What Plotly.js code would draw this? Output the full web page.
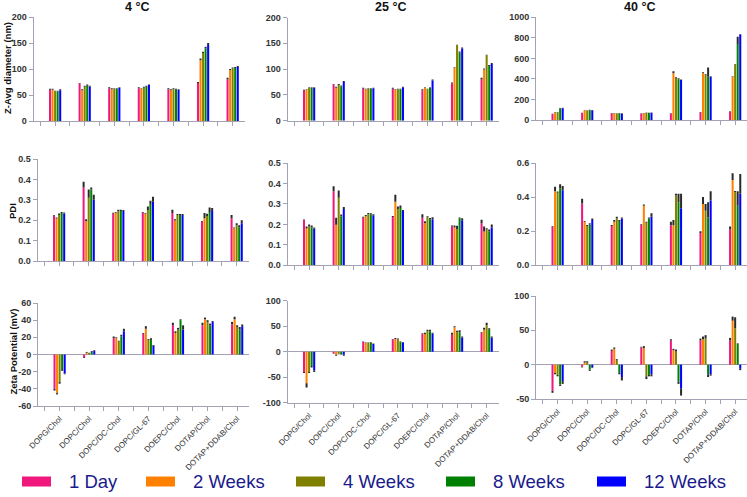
<!DOCTYPE html>
<html>
<head>
<meta charset="utf-8">
<script src="https://cdn.plot.ly/plotly-3.0.1.min.js"></script>
<style>
  html, body { margin: 0; padding: 0; background: #ffffff; }
  #chart { width: 747px; height: 497px; }
</style>
</head>
<body>
<div id="chart"></div>
<script>
// Liposome formulations (x categories) and storage time points (series)
const formulations = ['DOPG/Chol', 'DOPC/Chol', 'DOPC/DC-Chol', 'DOPC/GL-67', 'DOEPC/Chol', 'DOTAP/Chol', 'DOTAP+DDAB/Chol'];
const timePoints = ['1 Day', '2 Weeks', '4 Weeks', '8 Weeks', '12 Weeks'];
const temperatures = ['4 °C', '25 °C', '40 °C'];

// Z-average diameter (nm), rows = time points, columns = formulations
const zAvg4C = [
  [60, 72, 63, 63, 61, 73, 80],
  [60, 59, 61, 62, 59, 117, 98],
  [57, 66, 62, 64, 61, 131, 101],
  [57, 68, 62, 66, 60, 140, 102],
  [59, 66, 64, 69, 60, 146, 104]
];
const zAvg4CSd = [
  [2, 1, 2, 2, 2, 2, 3],
  [2, 2, 2, 1, 2, 3, 2],
  [1, 2, 1, 2, 2, 2, 2],
  [1, 2, 1, 2, 2, 3, 2],
  [2, 2, 1, 1, 1, 4, 2]
];
const zAvg25C = [
  [58, 70, 62, 62, 59, 72, 80],
  [60, 64, 61, 60, 64, 103, 99],
  [64, 69, 62, 61, 61, 146, 127],
  [64, 67, 62, 61, 64, 132, 106],
  [64, 75, 63, 65, 78, 140, 110]
];
const zAvg25CSd = [
  [2, 1, 2, 2, 2, 2, 3],
  [1, 2, 1, 1, 1, 1, 2],
  [1, 2, 1, 1, 1, 1, 1],
  [1, 1, 1, 1, 1, 2, 2],
  [1, 2, 1, 1, 2, 2, 2]
];
const zAvg40C = [
  [58, 68, 65, 63, 62, 72, 81],
  [70, 94, 65, 65, 455, 458, 420],
  [75, 92, 63, 70, 410, 438, 540],
  [113, 95, 65, 68, 398, 422, 740],
  [115, 95, 62, 70, 390, 422, 832]
];
const zAvg40CSd = [
  [4, 3, 3, 3, 4, 5, 5],
  [5, 4, 3, 3, 20, 8, 5],
  [4, 3, 3, 3, 6, 8, 5],
  [5, 4, 3, 3, 8, 90, 70],
  [4, 3, 3, 3, 5, 5, 5]
];

// Polydispersity index
const pdi4C = [
  [0.222, 0.360, 0.232, 0.236, 0.235, 0.192, 0.210],
  [0.208, 0.195, 0.236, 0.230, 0.198, 0.210, 0.160],
  [0.225, 0.310, 0.245, 0.250, 0.225, 0.220, 0.175],
  [0.235, 0.350, 0.245, 0.280, 0.225, 0.240, 0.165],
  [0.233, 0.300, 0.245, 0.290, 0.225, 0.245, 0.185]
];
const pdi4CSd = [
  [0.004, 0.028, 0.004, 0.004, 0.016, 0.004, 0.015],
  [0.005, 0.010, 0.004, 0.004, 0.007, 0.025, 0.004],
  [0.008, 0.040, 0.006, 0.017, 0.006, 0.012, 0.010],
  [0.005, 0.010, 0.006, 0.015, 0.005, 0.022, 0.010],
  [0.005, 0.025, 0.005, 0.025, 0.005, 0.015, 0.015]
];
const pdi25C = [
  [0.220, 0.362, 0.232, 0.236, 0.232, 0.190, 0.205],
  [0.180, 0.198, 0.240, 0.310, 0.205, 0.185, 0.165],
  [0.190, 0.330, 0.250, 0.275, 0.235, 0.175, 0.175],
  [0.185, 0.240, 0.250, 0.280, 0.225, 0.230, 0.165],
  [0.180, 0.275, 0.245, 0.265, 0.225, 0.220, 0.185]
];
const pdi25CSd = [
  [0.004, 0.024, 0.005, 0.005, 0.018, 0.005, 0.018],
  [0.010, 0.035, 0.006, 0.035, 0.010, 0.010, 0.025],
  [0.010, 0.035, 0.006, 0.012, 0.005, 0.018, 0.006],
  [0.010, 0.008, 0.005, 0.012, 0.006, 0.004, 0.010],
  [0.005, 0.010, 0.005, 0.005, 0.010, 0.010, 0.015]
];
const pdi40C = [
  [0.225, 0.362, 0.230, 0.236, 0.235, 0.190, 0.210],
  [0.435, 0.255, 0.255, 0.350, 0.235, 0.360, 0.500],
  [0.425, 0.230, 0.275, 0.250, 0.410, 0.320, 0.430],
  [0.450, 0.240, 0.260, 0.275, 0.370, 0.280, 0.350],
  [0.440, 0.265, 0.275, 0.285, 0.335, 0.380, 0.420]
];
const pdi40CSd = [
  [0.004, 0.028, 0.006, 0.005, 0.020, 0.010, 0.018],
  [0.025, 0.005, 0.010, 0.006, 0.030, 0.040, 0.040],
  [0.008, 0.006, 0.010, 0.005, 0.010, 0.040, 0.006],
  [0.025, 0.006, 0.005, 0.006, 0.050, 0.090, 0.085],
  [0.025, 0.010, 0.005, 0.020, 0.085, 0.055, 0.115]
];

// Zeta potential (mV)
const zeta4C = [
  [-40, -3, 19, 24, 34, 34, 35],
  [-45, 2, 19, 30, 25, 41, 41],
  [-32, 1, 15, 17, 29, 38, 32],
  [-17, 3, 21, 17, 40, 34, 29],
  [-22, 4, 27, 10, 29, 38, 33]
];
const zeta4CSd = [
  [2, 1, 2, 1, 3, 3, 3],
  [1.5, 1, 1, 3, 2, 2, 3],
  [2, 1, 1, 1, 2, 2, 2],
  [2, 1, 2, 2, 1, 2, 3],
  [1, 1, 3, 1, 5, 1, 2]
];
const zeta25C = [
  [-40, -3, 19, 24, 35, 33, 36],
  [-62, -6, 17, 25, 34, 48, 43],
  [-40, -4, 17, 24, 40, 38, 52],
  [-28, -5, 18, 19, 40, 38, 43],
  [-37, -6, 15, 18, 35, 28, 28]
];
const zeta25CSd = [
  [2, 1, 1, 1, 1, 4, 2],
  [8, 2, 1, 2, 3, 2, 4],
  [2, 1, 1, 2, 3, 3, 5],
  [3, 1, 1, 1, 3, 4, 3],
  [3, 2, 1, 1, 2, 2, 2]
];
const zeta40C = [
  [-38, -3, 20, 25, 35, 35, 35],
  [-12, 3, 23, 24, 21, 37, 64],
  [-15, 3, 6, -17, 19, 38, 53],
  [-29, -7, -12, -15, -25, -14, 30],
  [-24, -4, -18, -14, -35, -14, -6]
];
const zeta40CSd = [
  [3, 1, 2, 1, 2, 3, 4],
  [2, 2, 2, 3, 2, 4, 6],
  [2, 2, 2, 4, 3, 5, 16],
  [2, 2, 2, 2, 3, 4, 1],
  [4, 1, 5, 3, 10, 2, 2]
];

// ---- styling ----
const seriesColors = ['#F0177D', '#FF8000', '#808000', '#008000', '#0000FF'];
const axisColor = '#a2a2b4';
const FONT = 'Liberation Sans, Arial, Helvetica, sans-serif';
const W = 747, H = 497;
const px = v => v / W;
const py = v => 1 - v / H;
const X_RANGE = [-0.73, 6.4];
const PANEL_W = 211;

// panel boxes in pixels: left, top, bottom
const panels = [
  { vals: zAvg4C,  sd: zAvg4CSd,  box: [33.5, 17, 121],    yr: [0, 200],   dt: 50,  dec: 0 },
  { vals: zAvg25C, sd: zAvg25CSd, box: [287.5, 17.5, 120.7], yr: [0, 200], dt: 50,  dec: 0 },
  { vals: zAvg40C, sd: zAvg40CSd, box: [536, 17.3, 120],   yr: [0, 1000],  dt: 200, dec: 0 },
  { vals: pdi4C,   sd: pdi4CSd,   box: [37.5, 159, 261],   yr: [0, 0.5],   dt: 0.1, dec: 1 },
  { vals: pdi25C,  sd: pdi25CSd,  box: [287.5, 163, 265.3], yr: [0, 0.5],  dt: 0.1, dec: 1 },
  { vals: pdi40C,  sd: pdi40CSd,  box: [536, 163, 265.3],  yr: [0, 0.6],   dt: 0.2, dec: 1 },
  { vals: zeta4C,  sd: zeta4CSd,  box: [38, 303, 406],     yr: [-60, 60],  dt: 20,  dec: 0 },
  { vals: zeta25C, sd: zeta25CSd, box: [287.5, 300.7, 402.7], yr: [-100, 100], dt: 50, dec: 0 },
  { vals: zeta40C, sd: zeta40CSd, box: [536, 296, 399],    yr: [-50, 100], dt: 50,  dec: 0 }
];

const xIdx = formulations.map((_, i) => i);
const xTickVals = [];
const xTickText = [];
formulations.forEach((name, i) => {
  xTickVals.push(i - 0.5, i);
  xTickText.push('', name);
});

const traces = [];
const layout = {
  width: W, height: H,
  margin: { l: 0, r: 0, t: 0, b: 0 },
  paper_bgcolor: '#ffffff', plot_bgcolor: '#ffffff',
  barmode: 'group', bargap: 0.57, bargroupgap: 0.2,
  showlegend: false,
  font: { family: FONT, color: '#333333' },
  annotations: [], shapes: []
};

panels.forEach((p, k) => {
  const n = k + 1;
  const sfx = n > 1 ? String(n) : '';
  const row = Math.floor(k / 3);
  p.vals.forEach((vals, s) => {
    traces.push({
      type: 'bar', x: xIdx, y: vals, name: timePoints[s],
      xaxis: 'x' + sfx, yaxis: 'y' + sfx,
      marker: { color: seriesColors[s], line: { width: 0 } },
      // SD drawn away from zero (up for positive bars, down for negative ones)
      error_y: {
        type: 'data', symmetric: false,
        array: vals.map((v, i) => v >= 0 ? p.sd[s][i] : 0),
        arrayminus: vals.map((v, i) => v < 0 ? p.sd[s][i] : 0),
        color: '#2a2a2a', thickness: 2, width: 0
      }
    });
  });

  const [L, T, B] = p.box;
  const yTicks = [];
  for (let v = p.yr[0]; v <= p.yr[1] + 1e-9; v += p.dt) yTicks.push(+v.toFixed(4));

  layout['xaxis' + sfx] = {
    domain: [px(L), Math.min(1, px(L + PANEL_W))],
    range: X_RANGE, anchor: 'y' + sfx, fixedrange: true,
    showline: true, linecolor: axisColor, linewidth: 1,
    showgrid: false, zeroline: false,
    ticks: 'outside', ticklen: 4, tickwidth: 1, tickcolor: axisColor,
    tickmode: 'array', tickvals: xTickVals, ticktext: xTickText,
    showticklabels: row === 2, tickangle: -45,
    tickfont: { family: FONT, size: 8, color: '#333333' }
  };
  layout['yaxis' + sfx] = {
    domain: [py(B), py(T)],
    range: p.yr, anchor: 'x' + sfx, fixedrange: true,
    showline: true, linecolor: axisColor, linewidth: 1,
    showgrid: false,
    zeroline: p.yr[0] < 0, zerolinecolor: axisColor, zerolinewidth: 1,
    ticks: 'outside', ticklen: 4, tickwidth: 1, tickcolor: axisColor,
    tickmode: 'array', tickvals: yTicks, ticktext: yTicks.map(v => v.toFixed(p.dec)),
    tickfont: { family: FONT, size: 9, color: '#333333', weight: 'bold' }
  };

  if (row === 0) {
    layout.annotations.push({
      text: temperatures[k], xref: 'paper', yref: 'paper',
      x: px(L + PANEL_W / 2 - 2), y: py(7), xanchor: 'center', yanchor: 'middle',
      showarrow: false, font: { family: FONT, size: 12.5, color: '#111111', weight: 'bold' }
    });
  }
});

// y-axis titles of the first column
const yTitles = [
  { text: 'Z-Avg diameter (nm)', x: 7, y: 68 },
  { text: 'PDI', x: 12, y: 211 },
  { text: 'Zeta Potential (mV)', x: 12.5, y: 352 }
];
yTitles.forEach(t => {
  layout.annotations.push({
    text: t.text, xref: 'paper', yref: 'paper', x: px(t.x), y: py(t.y),
    xanchor: 'center', yanchor: 'middle', textangle: -90, showarrow: false,
    font: { family: FONT, size: 9.5, color: '#111111', weight: 'bold' }
  });
});

// legend row along the bottom
const legendSlots = [22, 146, 296, 446, 597];
const legendY = 481.5;
timePoints.forEach((name, s) => {
  const x0 = legendSlots[s];
  layout.shapes.push({
    type: 'rect', xref: 'paper', yref: 'paper',
    x0: px(x0), x1: px(x0 + 29), y0: py(legendY + 5), y1: py(legendY - 5),
    fillcolor: seriesColors[s], line: { width: 0 }
  });
  layout.annotations.push({
    text: name, xref: 'paper', yref: 'paper', x: px(x0 + 45), y: py(legendY),
    xanchor: 'left', yanchor: 'middle', showarrow: false,
    font: { family: FONT, size: 18.5, color: '#1a1a8c' }
  });
});

Plotly.newPlot('chart', traces, layout, { staticPlot: true, displayModeBar: false });
</script>
</body>
</html>
